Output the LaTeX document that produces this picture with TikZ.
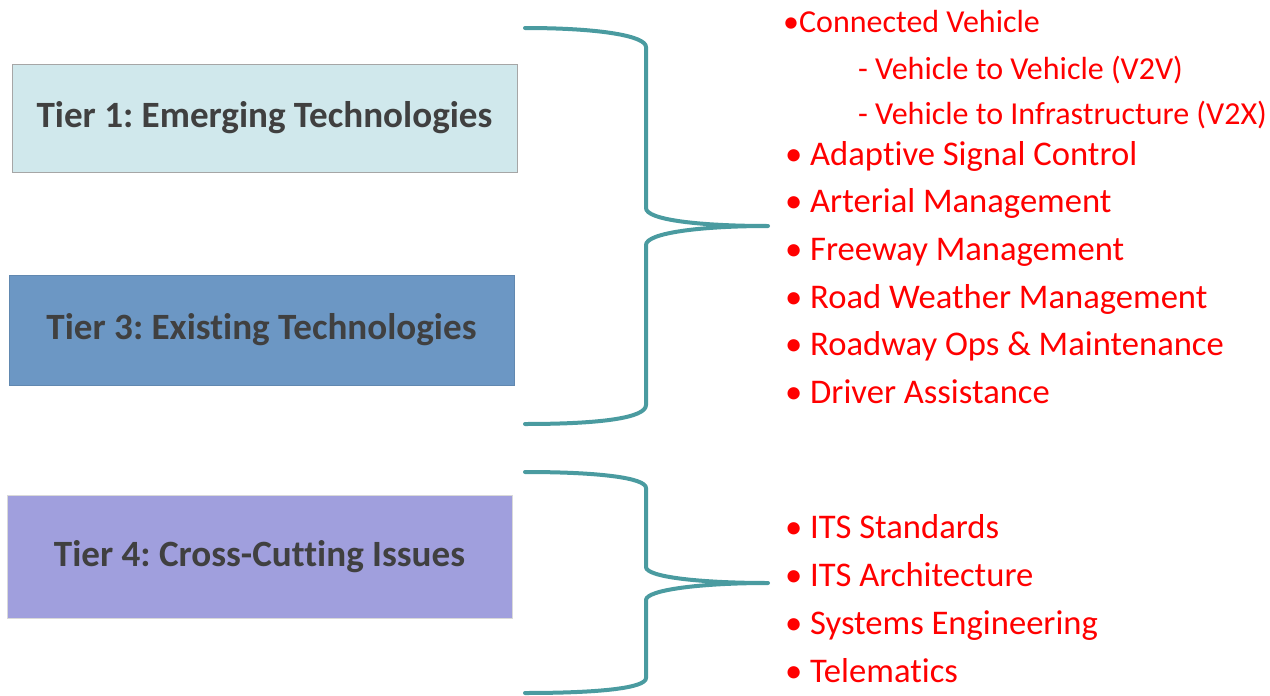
\documentclass[tikz,border=0pt]{standalone}
\usepackage{fontspec}
\setmainfont{Carlito}[RawFeature=-liga]
\definecolor{bracecol}{HTML}{4A9BA0}
\definecolor{tieronefill}{HTML}{D0E8EC}
\definecolor{tierthreefill}{HTML}{6C97C4}
\definecolor{tierfourfill}{HTML}{A09FDD}
\definecolor{tiertext}{HTML}{404040}
\definecolor{itemred}{HTML}{FF0000}
\frenchspacing
\begin{document}
\frenchspacing
\begin{tikzpicture}[x=1pt,y=-1pt,
  tierbox/.style={draw, line width=0.8pt, minimum width=505pt, inner sep=0pt,
     font=\fontsize{37.1}{40}\selectfont\bfseries\frenchspacing, text=tiertext},
  itemtext/.style={anchor=base west, inner sep=0pt, text=itemred, font=\fontsize{34.6}{40}\selectfont\frenchspacing},
  subtext/.style={itemtext, font=\fontsize{32}{40}\selectfont\frenchspacing},
  bracestyle/.style={draw=bracecol, line width=4pt, line cap=round, line join=round}]
\useasboundingbox (0,0) rectangle (1270,696);
% tier boxes
\node[tierbox, fill=tieronefill, draw=black!35, minimum height=108pt] (t1) at (264.5,118) {Tier 1: Emerging Technologies};
\node[tierbox, fill=tierthreefill, draw=tierthreefill!90!black, minimum height=110pt] (t3) at (261.5,330) {Tier 3: Existing Technologies};
\node[tierbox, fill=tierfourfill, draw=black!15, minimum height=123pt] (t4) at (259.5,556.5) {Tier 4: Cross-Cutting Issues};
% braces
\coordinate (b1top) at (525,28);
\coordinate (b1tip) at (768,226);
\coordinate (b1bot) at (525,424);
\path[bracestyle] (b1top) .. controls (600,28) and (646,36) .. (646,47) -- (646,208)
   .. controls (646,220) and (700,226) .. (b1tip)
   .. controls (700,226) and (646,233) .. (646,245) -- (646,405)
   .. controls (646,418) and (600,424) .. (b1bot);
\coordinate (b2top) at (525,472);
\coordinate (b2tip) at (768,583);
\coordinate (b2bot) at (525,693);
\path[bracestyle] (b2top) .. controls (600,472) and (646,478) .. (646,488) -- (646,567)
   .. controls (646,577) and (700,583) .. (b2tip)
   .. controls (700,583) and (646,590) .. (646,600) -- (646,678)
   .. controls (646,688) and (600,693) .. (b2bot);
% items
\node[subtext] (cv) at (783,32) {•Connected Vehicle};
\node[subtext] (v2v) at (858,79) {- Vehicle to Vehicle (V2V)};
\node[subtext] (v2x) at (858,124) {- Vehicle to Infrastructure (V2X)};
\node[itemtext] (asc) at (785,165) {\makebox[25pt][l]{•}Adaptive Signal Control};
\node[itemtext] (am) at (785,212) {\makebox[25pt][l]{•}Arterial Management};
\node[itemtext] (fm) at (785,260) {\makebox[25pt][l]{•}Freeway Management};
\node[itemtext] (rwm) at (785,308) {\makebox[25pt][l]{•}Road Weather Management};
\node[itemtext] (rom) at (785,355) {\makebox[25pt][l]{•}Roadway Ops \& Maintenance};
\node[itemtext] (da) at (785,403) {\makebox[25pt][l]{•}Driver Assistance};
\node[itemtext] (its) at (785,538) {\makebox[25pt][l]{•}ITS Standards};
\node[itemtext] (ita) at (785,586) {\makebox[25pt][l]{•}ITS Architecture};
\node[itemtext] (se) at (785,634) {\makebox[25pt][l]{•}Systems Engineering};
\node[itemtext] (tm) at (785,682) {\makebox[25pt][l]{•}Telematics};
\end{tikzpicture}
\end{document}
